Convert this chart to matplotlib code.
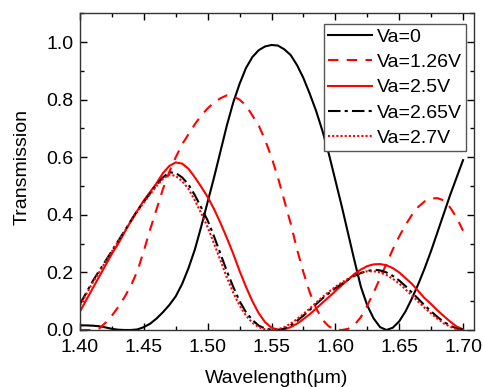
import numpy as np
import matplotlib
matplotlib.use("Agg")
import matplotlib.pyplot as plt
from matplotlib.ticker import MultipleLocator

plt.rcParams['font.family'] = ['Liberation Sans', 'DejaVu Sans']

# wavelength grid (um), values every 5 nm
wl = np.round(np.arange(1.400, 1.7001, 0.005), 3)

t_0v = [0.016, 0.016, 0.015, 0.013, 0.009, 0.004, 0.001, 0.0, 0.0, 0.002,
        0.010, 0.022, 0.040, 0.062, 0.087, 0.117, 0.160, 0.215, 0.280, 0.360,
        0.445, 0.530, 0.620, 0.710, 0.790, 0.855, 0.910, 0.948, 0.972, 0.985,
        0.990, 0.988, 0.975, 0.955, 0.920, 0.875, 0.820, 0.760, 0.690, 0.610,
        0.520, 0.430, 0.335, 0.240, 0.150, 0.085, 0.040, 0.010, 0.0, 0.008,
        0.030, 0.065, 0.110, 0.160, 0.215, 0.275, 0.340, 0.405, 0.470, 0.530,
        0.590]

t_126v = [0.0, 0.0, 0.0, 0.005, 0.025, 0.050, 0.080, 0.115, 0.155, 0.205,
          0.275, 0.350, 0.420, 0.490, 0.550, 0.600, 0.645, 0.680, 0.715, 0.745,
          0.770, 0.790, 0.805, 0.815, 0.812, 0.800, 0.780, 0.745, 0.710, 0.660,
          0.600, 0.530, 0.450, 0.370, 0.280, 0.200, 0.130, 0.075, 0.035, 0.012,
          0.002, 0.0, 0.004, 0.018, 0.045, 0.085, 0.130, 0.180, 0.230, 0.280,
          0.325, 0.365, 0.400, 0.428, 0.447, 0.457, 0.458, 0.450, 0.425, 0.390,
          0.345]

t_25v = [0.064, 0.105, 0.145, 0.185, 0.225, 0.265, 0.300, 0.340, 0.380, 0.415,
         0.450, 0.480, 0.510, 0.545, 0.570, 0.582, 0.578, 0.560, 0.530, 0.497,
         0.462, 0.420, 0.372, 0.320, 0.265, 0.205, 0.150, 0.100, 0.058, 0.027,
         0.008, 0.001, 0.002, 0.010, 0.022, 0.038, 0.055, 0.075, 0.095, 0.115,
         0.135, 0.155, 0.175, 0.195, 0.210, 0.222, 0.228, 0.229, 0.225, 0.215,
         0.200, 0.180, 0.160, 0.135, 0.110, 0.090, 0.068, 0.048, 0.029, 0.012,
         0.002]

t_265v = [0.090, 0.130, 0.170, 0.205, 0.240, 0.275, 0.310, 0.345, 0.380, 0.415,
          0.445, 0.475, 0.505, 0.530, 0.548, 0.545, 0.530, 0.505, 0.468, 0.425,
          0.380, 0.325, 0.265, 0.205, 0.150, 0.100, 0.062, 0.035, 0.015, 0.005,
          0.001, 0.0, 0.005, 0.017, 0.032, 0.050, 0.070, 0.090, 0.110, 0.128,
          0.145, 0.160, 0.175, 0.188, 0.198, 0.205, 0.209, 0.207, 0.200, 0.188,
          0.172, 0.152, 0.130, 0.108, 0.085, 0.065, 0.045, 0.028, 0.015, 0.005,
          0.001]

t_27v = [0.085, 0.125, 0.165, 0.200, 0.237, 0.273, 0.308, 0.343, 0.378, 0.412,
         0.443, 0.472, 0.500, 0.525, 0.540, 0.535, 0.517, 0.490, 0.450, 0.405,
         0.357, 0.300, 0.242, 0.183, 0.130, 0.085, 0.050, 0.025, 0.010, 0.002,
         0.0, 0.002, 0.010, 0.022, 0.038, 0.056, 0.075, 0.095, 0.115, 0.133,
         0.150, 0.165, 0.178, 0.190, 0.199, 0.204, 0.204, 0.200, 0.191, 0.178,
         0.161, 0.141, 0.120, 0.098, 0.077, 0.057, 0.039, 0.023, 0.011, 0.003,
         0.0]

fig = plt.figure(figsize=(4.83, 3.87), dpi=100)
ax = fig.add_axes([0.1656, 0.1473, 0.8158, 0.8183])

lw = 1.5
ax.plot(wl, t_0v, color='black', lw=lw, label='Va=0')
ax.plot(wl, t_126v, color='red', lw=lw, ls=(0, (5, 4)), label='Va=1.26V')
ax.plot(wl, t_25v, color='red', lw=lw, label='Va=2.5V')
ax.plot(wl, t_265v, color='black', lw=lw, ls=(0, (6, 2, 1.5, 2)), label='Va=2.65V')
ax.plot(wl, t_27v, color='red', lw=lw, ls=(0, (1, 1)), label='Va=2.7V')

ax.set_xlim(1.40, 1.7086)
ax.set_ylim(0, 1.1)
ax.xaxis.set_major_locator(MultipleLocator(0.05))
ax.xaxis.set_minor_locator(MultipleLocator(0.025))
ax.yaxis.set_major_locator(MultipleLocator(0.2))
ax.yaxis.set_minor_locator(MultipleLocator(0.1))
ax.xaxis.set_major_formatter(plt.FormatStrFormatter('%.2f'))
ax.yaxis.set_major_formatter(plt.FormatStrFormatter('%.1f'))

ax.tick_params(which='both', direction='in', top=True, right=True, labelsize=14)
ax.tick_params(which='major', length=5, width=1)
ax.tick_params(which='minor', length=3, width=1)
ax.tick_params(axis='x', pad=6.5)
ax.tick_params(axis='y', pad=4.5)
for s in ax.spines.values():
    s.set_linewidth(1)
    s.set_color('#333333')

ax.set_xlabel('Wavelength(\u03bcm)', fontsize=14)
ax.set_ylabel('Transmission', fontsize=14)
ax.xaxis.set_label_coords(0.5, -0.125)
ax.yaxis.set_label_coords(-0.125, 0.515)

leg = ax.legend(loc='upper right', bbox_to_anchor=(0.979, 0.966), borderaxespad=0,
                fontsize=14, handlelength=2.25, handletextpad=0.25, labelspacing=0.4,
                borderpad=0.2, fancybox=False, framealpha=1)
leg.get_frame().set_edgecolor('#555555')
leg.get_frame().set_linewidth(1)

fig.savefig('out.png', dpi=100)
